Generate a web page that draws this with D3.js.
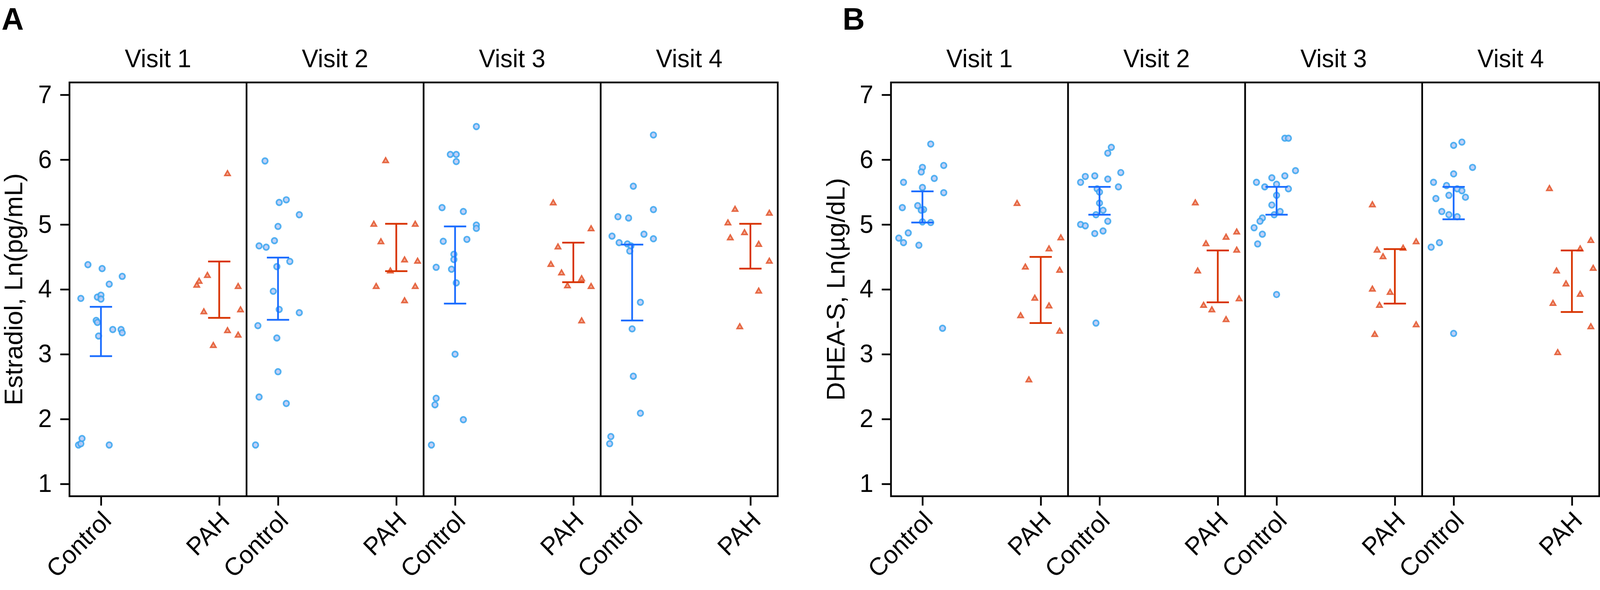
<!DOCTYPE html>
<html><head><meta charset="utf-8">
<script src="https://cdn.jsdelivr.net/npm/d3@7"></script>
<style>html,body{margin:0;padding:0;width:100%;height:100%;overflow:hidden;background:#fff}svg{display:block}</style>
</head><body>
<svg id="c" viewBox="0 0 4168 1510" preserveAspectRatio="none" style="width:100vw;height:100vh"></svg>
<script>
// ---------- data ----------
const visits = ["Visit 1", "Visit 2", "Visit 3", "Visit 4"];
const groups = ["Control", "PAH"];
const yTicks = [1, 2, 3, 4, 5, 6, 7];

// Panel A: Estradiol, Ln(pg/mL)  — values per visit, and horizontal jitter (category units)
const estradiolControl = [
  [4.38,4.32,4.20,4.08,3.86,3.88,3.91,3.85,3.52,3.49,3.38,3.38,3.33,3.28,1.60,1.62,1.70,1.60],
  [5.98,5.34,5.38,5.15,4.97,4.75,4.67,4.65,4.43,4.35,3.97,3.69,3.64,3.44,3.25,2.73,2.34,2.24,1.60],
  [6.51,6.08,6.08,5.97,5.26,5.20,4.99,4.94,4.74,4.77,4.54,4.46,4.34,4.31,4.10,3.00,2.32,2.22,1.99,1.60],
  [6.38,5.59,5.23,5.12,5.10,4.82,4.85,4.78,4.72,4.70,4.67,4.59,3.80,3.39,2.66,2.09,1.73,1.62]
];
const estradiolControlJitter = [
  [-0.11,0.01,0.18,0.07,-0.17,-0.03,0.00,0.00,-0.04,-0.03,0.10,0.17,0.18,-0.02,-0.19,-0.17,-0.16,0.07],
  [-0.11,0.01,0.07,0.18,0.00,-0.03,-0.16,-0.10,0.10,-0.01,-0.04,0.01,0.18,-0.17,-0.01,0.00,-0.16,0.07,-0.19],
  [0.18,-0.04,0.01,0.01,-0.11,0.07,0.18,0.18,-0.10,0.10,-0.01,-0.01,-0.16,-0.03,0.01,0.00,-0.16,-0.17,0.07,-0.20],
  [0.18,0.01,0.18,-0.12,-0.03,-0.17,0.10,0.18,-0.11,-0.04,-0.01,-0.02,0.07,0.00,0.01,0.07,-0.18,-0.19]
];
const estradiolPAH = [
  [5.78,4.21,4.12,4.06,4.04,3.65,3.68,3.36,3.29,3.13],
  [5.98,5.00,5.00,4.73,4.45,4.43,4.28,4.04,4.04,3.82],
  [5.33,4.93,4.65,4.38,4.25,4.16,4.05,4.04,3.51],
  [5.23,5.17,5.02,4.87,4.79,4.69,4.43,3.97,3.42]
];
const estradiolPAHJitter = [
  [0.07,-0.10,-0.17,-0.19,0.16,-0.13,0.18,0.07,0.16,-0.05],
  [-0.09,-0.19,0.16,-0.13,0.07,0.18,-0.05,-0.17,0.16,0.07],
  [-0.17,0.15,-0.13,-0.19,-0.10,0.07,-0.05,0.15,0.07],
  [-0.13,0.16,-0.19,-0.05,-0.17,0.07,0.16,0.07,-0.09]
];
const estradiolControlBar = [[2.97,3.73],[3.53,4.49],[3.78,4.97],[3.52,4.69]];
const estradiolPAHBar     = [[3.56,4.43],[4.28,5.01],[4.11,4.72],[4.32,5.01]];

// Panel B: DHEA-S, Ln(µg/dL)
const dheaControl = [
  [6.24,5.88,5.81,5.91,5.71,5.65,5.57,5.49,5.26,5.29,5.23,5.22,5.04,5.03,4.87,4.79,4.72,4.68,3.40],
  [6.19,6.10,5.80,5.75,5.74,5.70,5.65,5.58,5.55,5.50,5.33,5.22,5.15,5.05,5.00,4.98,4.90,4.86,3.48],
  [6.33,6.33,5.83,5.75,5.72,5.65,5.62,5.58,5.55,5.45,5.30,5.20,5.15,5.10,5.05,4.95,4.85,4.70,3.92],
  [6.27,6.22,5.88,5.78,5.65,5.60,5.55,5.52,5.45,5.42,5.40,5.20,5.15,5.12,4.72,4.65,3.32]
];
const dheaControlJitter = [
  [0.07,0.00,-0.01,0.18,0.10,-0.16,0.00,0.18,-0.17,-0.04,0.01,-0.01,0.00,0.07,-0.12,-0.20,-0.16,-0.03,0.17],
  [0.10,0.07,0.18,-0.04,-0.12,0.07,-0.16,0.16,-0.02,0.00,0.00,0.03,-0.03,0.07,-0.16,-0.12,0.03,-0.04,-0.03],
  [0.07,0.10,0.16,0.07,-0.04,-0.17,0.00,-0.10,0.10,0.00,-0.04,0.03,-0.02,-0.12,-0.14,-0.19,-0.12,-0.16,0.00],
  [0.07,0.00,0.16,0.00,-0.17,-0.06,0.03,0.07,-0.04,0.10,-0.15,-0.10,-0.04,0.03,-0.12,-0.19,0.00]
];
const dheaPAH = [
  [5.32,4.79,4.62,4.34,4.29,3.86,3.74,3.59,3.35,2.60],
  [5.33,4.88,4.80,4.70,4.60,4.28,3.85,3.75,3.68,3.53],
  [5.30,4.73,4.63,4.60,4.50,4.00,3.95,3.75,3.45,3.30],
  [5.55,4.75,4.62,4.32,4.28,4.08,3.92,3.78,3.42,3.02]
];
const dheaPAHJitter = [
  [-0.20,0.17,0.07,-0.13,0.16,-0.05,0.07,-0.17,0.16,-0.10],
  [-0.19,0.16,0.07,-0.10,0.16,-0.17,0.18,-0.12,-0.05,0.07],
  [-0.19,0.18,0.07,-0.15,-0.10,-0.19,-0.04,-0.13,0.18,-0.17],
  [-0.19,0.16,0.07,0.18,-0.13,-0.05,0.07,-0.16,0.16,-0.12]
];
const dheaControlBar = [[5.03,5.51],[5.15,5.58],[5.15,5.58],[5.08,5.58]];
const dheaPAHBar     = [[3.48,4.50],[3.80,4.60],[3.78,4.62],[3.65,4.60]];

// ---------- drawing ----------
const FONT = "'Liberation Sans', Arial, Helvetica, sans-serif";
const svg = d3.select("#c").style("font-family", FONT);
const plotTop = 211, plotBottom = 1270, plotWidth = 1845;
const y = d3.scaleLinear().domain([0.81, 7.19]).range([plotBottom, plotTop]);

const panels = [
  {letter: "A", letterX: 4, titleX: 58, left: 181, title: "Estradiol, Ln(pg/mL)",
   ctrl: estradiolControl, ctrlJ: estradiolControlJitter, pah: estradiolPAH, pahJ: estradiolPAHJitter,
   ctrlBar: estradiolControlBar, pahBar: estradiolPAHBar},
  {letter: "B", letterX: 2195, titleX: 2200, left: 2321, title: "DHEA-S, Ln(\u00b5g/dL)",
   ctrl: dheaControl, ctrlJ: dheaControlJitter, pah: dheaPAH, pahJ: dheaPAHJitter,
   ctrlBar: dheaControlBar, pahBar: dheaPAHBar}
];

const ctrlStroke = "#3aa6f0", ctrlFill = "#b6c9f6";
const pahStroke = "#e5603b", pahFill = "#f2ae98";
const barBlue = "#1a6cff", barRed = "#d83300";
const LW = 4.5;

panels.forEach(p => {
  const g = svg.append("g");
  const facetW = plotWidth / visits.length;

  // panel letter
  g.append("text").attr("x", p.letterX).attr("y", 76)
    .attr("font-size", 80).attr("font-weight", "bold").attr("fill", "#000").text(p.letter);

  // y axis title
  g.append("text")
    .attr("transform", `translate(${p.titleX},${(plotTop + plotBottom) / 2}) rotate(-90)`)
    .attr("text-anchor", "middle").attr("font-size", 66).attr("fill", "#000").text(p.title);

  // y axis
  const ya = g.append("g").attr("transform", `translate(${p.left},0)`)
    .call(d3.axisLeft(y).tickValues(yTicks).tickSize(24).tickPadding(22).tickFormat(d3.format("d")));
  ya.select(".domain").remove();
  ya.selectAll(".tick line").attr("stroke", "#000").attr("stroke-width", LW);
  ya.selectAll(".tick text").attr("font-size", 64).attr("font-family", FONT).attr("fill", "#000");

  visits.forEach((v, i) => {
    const fx0 = p.left + i * facetW;
    const x = d3.scaleLinear().domain([0.734, 2.231]).range([fx0, fx0 + facetW]);

    // strip title
    g.append("text").attr("x", fx0 + facetW / 2).attr("y", 172).attr("text-anchor", "middle")
      .attr("font-size", 64).attr("fill", "#000").text(v);

    // x axis
    const xa = g.append("g").attr("transform", `translate(0,${plotBottom})`)
      .call(d3.axisBottom(x).tickValues([1, 2]).tickSize(24).tickFormat(d => groups[d - 1]));
    xa.select(".domain").remove();
    xa.selectAll(".tick line").attr("stroke", "#000").attr("stroke-width", LW);
    xa.selectAll(".tick text").attr("font-size", 64).attr("font-family", FONT).attr("fill", "#000")
      .attr("text-anchor", "end").attr("x", null).attr("y", null).attr("dy", null)
      .attr("transform", "translate(30,66) rotate(-45)");

    // control points
    const cdata = p.ctrl[i].map((val, k) => ({val, j: p.ctrlJ[i][k]}));
    g.append("g").selectAll("circle").data(cdata).join("circle")
      .attr("cx", d => x(1 + d.j)).attr("cy", d => y(d.val)).attr("r", 7.2)
      .attr("fill", ctrlFill).attr("fill-opacity", 0.85)
      .attr("stroke", ctrlStroke).attr("stroke-opacity", 0.85).attr("stroke-width", 4.2);

    // PAH points
    const pdata = p.pah[i].map((val, k) => ({val, j: p.pahJ[i][k]}));
    const tri = d3.symbol(d3.symbolTriangle, 80);
    g.append("g").selectAll("path").data(pdata).join("path")
      .attr("d", tri)
      .attr("transform", d => `translate(${x(2 + d.j)},${y(d.val)})`)
      .attr("fill", pahFill).attr("stroke", pahStroke).attr("stroke-width", 4)
      .attr("stroke-linejoin", "miter").attr("opacity", 0.95);

    // error bars
    [[1, p.ctrlBar[i], barBlue], [2, p.pahBar[i], barRed]].forEach(([cx, [lo, hi], col]) => {
      const eb = g.append("g").attr("stroke", col).attr("stroke-width", LW).attr("fill", "none");
      eb.append("line").attr("x1", x(cx)).attr("x2", x(cx)).attr("y1", y(lo)).attr("y2", y(hi));
      [lo, hi].forEach(vv => eb.append("line")
        .attr("x1", x(cx) - 29).attr("x2", x(cx) + 29).attr("y1", y(vv)).attr("y2", y(vv)));
    });

    // facet divider
    if (i > 0) g.append("line").attr("x1", fx0).attr("x2", fx0).attr("y1", plotTop).attr("y2", plotBottom)
      .attr("stroke", "#000").attr("stroke-width", LW);
  });

  // frame
  g.append("rect").attr("x", p.left).attr("y", plotTop).attr("width", plotWidth)
    .attr("height", plotBottom - plotTop).attr("fill", "none").attr("stroke", "#000").attr("stroke-width", LW);
});
</script>
</body></html>
